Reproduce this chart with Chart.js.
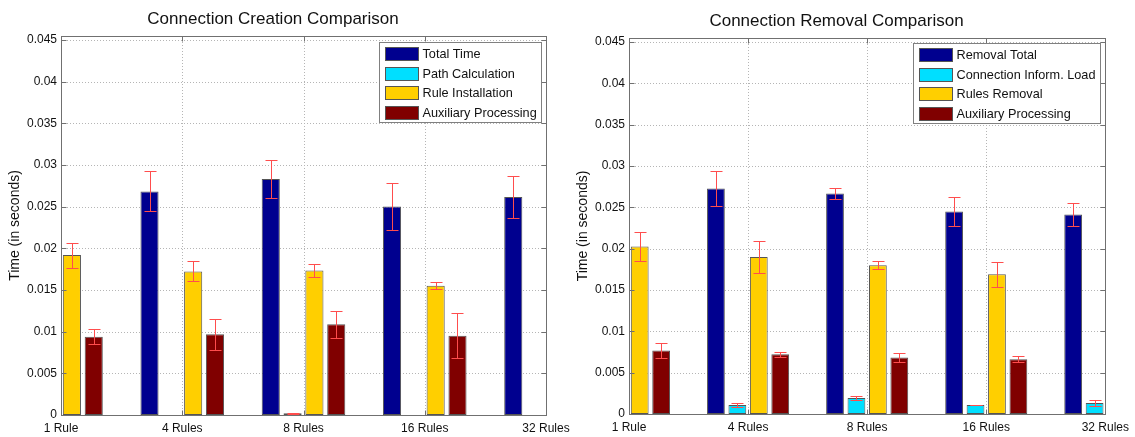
<!DOCTYPE html>
<html>
<head>
<meta charset="utf-8">
<script src="https://cdn.jsdelivr.net/npm/chart.js@4.4.0/dist/chart.umd.min.js"></script>
<style>
  body { margin: 0; background: #fff; width: 1135px; height: 437px; overflow: hidden; position: relative; }
  .caja { position: absolute; top: 0; height: 437px; }
  #cajaCreacion { left: 0; width: 590px; }
  #cajaRemocion { left: 567px; width: 568px; }
</style>
</head>
<body>
<div class="caja" id="cajaCreacion"><canvas id="creacion"></canvas></div>
<div class="caja" id="cajaRemocion"><canvas id="remocion"></canvas></div>
<script>
const reglas = ["1 Rule", "4 Rules", "8 Rules", "16 Rules", "32 Rules"];

// Connection creation (null = bar falls outside the axes, not visible)
const crea_total = [null, 0.02684, 0.02832, 0.02504, 0.02616];
const crea_total_err = [null, 0.0024, 0.0023, 0.0028, 0.0025];
const crea_camino = [null, 0, 0.0002, 0, 0];
const crea_camino_err = [null, null, 0.0001, null, null];
const crea_reglas = [0.0192, 0.01724, 0.01736, 0.01552, null];
const crea_reglas_err = [0.0015, 0.0012, 0.0008, 0.0004, null];
const crea_aux = [0.0094, 0.00968, 0.01088, 0.00952, null];
const crea_aux_err = [0.0009, 0.0019, 0.0016, 0.0027, null];

// Connection removal
const rem_total = [null, 0.02728, 0.02668, 0.02451, 0.02415];
const rem_total_err = [null, 0.0021, 0.0007, 0.0017, 0.0014];
const rem_carga = [null, 0.00109, 0.00193, 0.00109, 0.00133];
const rem_carga_err = [null, 0.0002, 0.00024, 0.00002, 0.00033];
const rem_reglas = [0.02028, 0.01899, 0.01799, 0.0169, null];
const rem_reglas_err = [0.0018, 0.0019, 0.0005, 0.0015, null];
const rem_aux = [0.00768, 0.00724, 0.00684, 0.00664, null];
const rem_aux_err = [0.0009, 0.0003, 0.0005, 0.00036, null];

const colores = ["rgb(0,0,143)", "rgb(0,223,255)", "rgb(255,207,0)", "rgb(128,0,0)"];
const fuente = "'Liberation Sans', Arial, sans-serif";
const negro = "#111";

// dotted grid under the bars, box + inward ticks and error bars on top
const plugin_ejes = {
  id: "ejesMatlab",
  beforeDatasetsDraw: (chart) => {
    const ctx = chart.ctx;
    const a = chart.chartArea;
    const x = chart.scales.x;
    const y = chart.scales.y;
    ctx.save();
    ctx.strokeStyle = "#b5b5b5";
    ctx.lineWidth = 1;
    ctx.setLineDash([1, 2]);
    ctx.beginPath();
    x.ticks.forEach((t, i) => {
      const px = Math.round(x.getPixelForTick(i)) + 0.5;
      ctx.moveTo(px, a.top);
      ctx.lineTo(px, a.bottom);
    });
    y.ticks.forEach((t, i) => {
      const py = Math.round(y.getPixelForTick(i)) + 0.5;
      ctx.moveTo(a.left, py);
      ctx.lineTo(a.right, py);
    });
    ctx.stroke();
    ctx.restore();
  },
  afterDatasetsDraw: (chart) => {
    const ctx = chart.ctx;
    const a = chart.chartArea;
    const x = chart.scales.x;
    const y = chart.scales.y;
    ctx.save();
    ctx.beginPath();
    ctx.rect(a.left, a.top, a.right - a.left, a.bottom - a.top);
    ctx.clip();
    ctx.strokeStyle = "#ff4d4d";
    ctx.lineWidth = 1;
    chart.data.datasets.forEach((ds, i) => {
      const meta = chart.getDatasetMeta(i);
      meta.data.forEach((barra, j) => {
        const v = ds.data[j];
        const e = ds.errores[j];
        if (v == null || e == null) return;
        const px = Math.round(barra.x) + 0.5;
        const arriba = Math.round(y.getPixelForValue(v + e)) + 0.5;
        const abajo = Math.round(y.getPixelForValue(Math.max(v - e, 0))) + 0.5;
        ctx.beginPath();
        ctx.moveTo(px, arriba);
        ctx.lineTo(px, abajo);
        ctx.moveTo(px - 6, arriba);
        ctx.lineTo(px + 6, arriba);
        ctx.moveTo(px - 6, abajo);
        ctx.lineTo(px + 6, abajo);
        ctx.stroke();
      });
    });
    ctx.restore();

    ctx.save();
    ctx.strokeStyle = "#707070";
    ctx.lineWidth = 1;
    const l = Math.round(a.left) + 0.5;
    const r = Math.round(a.right) + 0.5;
    const t = Math.round(a.top) + 0.5;
    const b = Math.round(a.bottom) + 0.5;
    ctx.strokeRect(l, t, r - l, b - t);
    ctx.beginPath();
    x.ticks.forEach((tk, i) => {
      const px = Math.round(x.getPixelForTick(i)) + 0.5;
      ctx.moveTo(px, b);
      ctx.lineTo(px, b - 5);
      ctx.moveTo(px, t);
      ctx.lineTo(px, t + 5);
    });
    y.ticks.forEach((tk, i) => {
      const py = Math.round(y.getPixelForTick(i)) + 0.5;
      ctx.moveTo(l, py);
      ctx.lineTo(l + 5, py);
      ctx.moveTo(r, py);
      ctx.lineTo(r - 5, py);
    });
    ctx.stroke();
    ctx.restore();
  },
};

// boxed legend inside the axes, top right
const plugin_leyenda = {
  id: "cajaLeyenda",
  afterDraw: (chart, args, opts) => {
    const ctx = chart.ctx;
    const a = chart.chartArea;
    ctx.save();
    ctx.font = "12.7px " + fuente;
    let ancho = 0;
    chart.data.datasets.forEach((ds) => {
      ancho = Math.max(ancho, ctx.measureText(ds.label).width);
    });
    const w = Math.round(43 + ancho + 5);
    const h = 80;
    const x0 = Math.round(a.right + opts.dx - w) + 0.5;
    const y0 = Math.round(a.top + opts.dy) + 0.5;
    ctx.fillStyle = "#fff";
    ctx.fillRect(x0, y0, w, h);
    ctx.strokeStyle = "#808080";
    ctx.lineWidth = 1;
    ctx.strokeRect(x0, y0, w, h);
    chart.data.datasets.forEach((ds, i) => {
      const cy = y0 + 11 + i * 19.7;
      ctx.fillStyle = ds.backgroundColor;
      ctx.fillRect(x0 + 6, Math.round(cy - 6.5), 33, 13);
      ctx.strokeStyle = "#555";
      ctx.strokeRect(x0 + 6, Math.round(cy - 6.5) + 0.5, 33, 13);
      ctx.fillStyle = negro;
      ctx.textBaseline = "middle";
      ctx.textAlign = "left";
      ctx.fillText(ds.label, x0 + 43, cy + 1);
    });
    ctx.restore();
  },
};

function armarSeries(nombres, valores, errores) {
  return nombres.map((nombre, i) => ({
    label: nombre,
    data: valores[i],
    errores: errores[i],
    backgroundColor: colores[i],
    borderColor: "#555",
    borderWidth: 1,
    borderSkipped: false,
    clip: 0,
    categoryPercentage: 0.72,
    barPercentage: 0.83,
  }));
}

function crearGrafico(id, titulo, series, conf) {
  const ctx = document.getElementById(id).getContext("2d");
  return new Chart(ctx, {
    type: "bar",
    data: { labels: reglas, datasets: series },
    options: {
      responsive: true,
      maintainAspectRatio: false,
      animation: false,
      layout: { padding: { left: 0, right: conf.padDer, top: 0, bottom: 0 } },
      scales: {
        x: {
          offset: false,
          grid: { display: false, drawTicks: false },
          border: { display: false },
          afterFit: (s) => { s.height = conf.altoX; },
          ticks: { padding: 6, maxRotation: 0, autoSkip: false, color: negro, font: { family: fuente, size: 12 } },
        },
        y: {
          min: 0,
          max: 0.0455,
          grid: { display: false, drawTicks: false },
          border: { display: false },
          afterFit: (s) => { s.width = conf.anchoY; },
          ticks: {
            stepSize: 0.005,
            includeBounds: false,
            padding: 4,
            color: negro,
            font: { family: fuente, size: 12 },
            callback: (v) => String(+v.toFixed(3)),
          },
          title: {
            display: true,
            text: "Time (in seconds)",
            color: negro,
            font: { family: fuente, size: 14 },
            padding: { top: conf.titY, bottom: 0 },
          },
        },
      },
      plugins: {
        legend: { display: false },
        tooltip: { enabled: false },
        title: {
          display: true,
          text: titulo,
          color: negro,
          font: { family: fuente, size: 17, weight: "normal" },
          padding: { top: conf.titArriba, bottom: conf.titAbajo },
        },
        cajaLeyenda: { dx: conf.leyDx, dy: conf.leyDy },
      },
    },
    plugins: [plugin_ejes, plugin_leyenda],
  });
}

crearGrafico(
  "creacion",
  "Connection Creation Comparison",
  armarSeries(
    ["Total Time", "Path Calculation", "Rule Installation", "Auxiliary Processing"],
    [crea_total, crea_camino, crea_reglas, crea_aux],
    [crea_total_err, crea_camino_err, crea_reglas_err, crea_aux_err]
  ),
  { padDer: 44, altoX: 22, anchoY: 61, titY: 7, titArriba: 9, titAbajo: 6.6, leyDx: -5, leyDy: 6 }
);

crearGrafico(
  "remocion",
  "Connection Removal Comparison",
  armarSeries(
    ["Removal Total", "Connection Inform. Load", "Rules Removal", "Auxiliary Processing"],
    [rem_total, rem_carga, rem_reglas, rem_aux],
    [rem_total_err, rem_carga_err, rem_reglas_err, rem_aux_err]
  ),
  { padDer: 29, altoX: 23, anchoY: 62, titY: 8, titArriba: 11, titAbajo: 6.6, leyDx: -5, leyDy: 5 }
);
</script>
</body>
</html>
